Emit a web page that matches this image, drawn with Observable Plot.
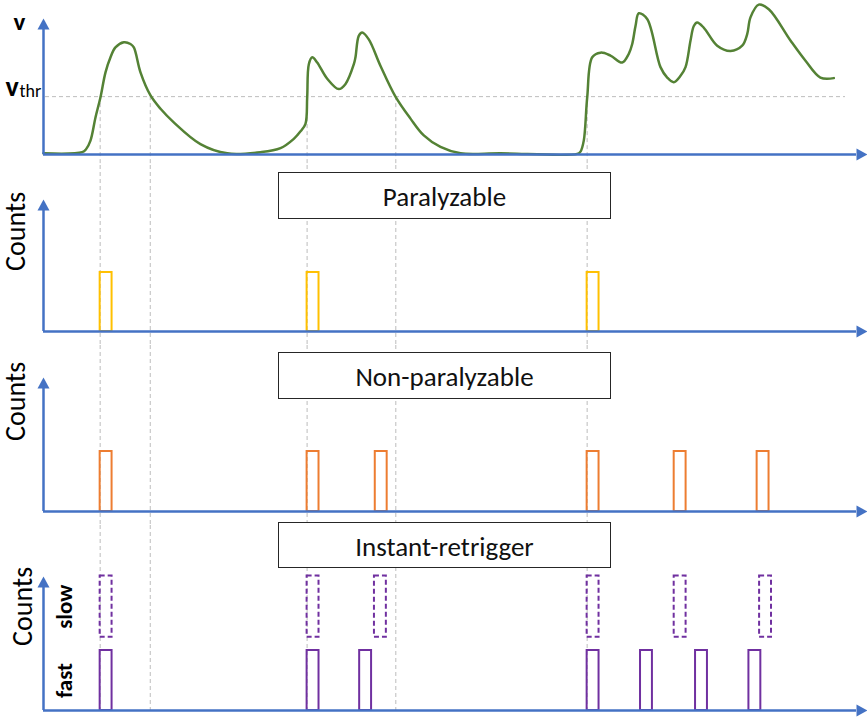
<!DOCTYPE html>
<html>
<head>
<meta charset="utf-8">
<script src="https://cdn.jsdelivr.net/npm/d3@7"></script>
<script src="https://cdn.jsdelivr.net/npm/@observablehq/plot@0.6"></script>
<style>
  body { margin: 0; background: #fff; }
  #fig { position: relative; width: 867px; height: 719px; font-family: Carlito, Calibri, Lato, sans-serif; }
  #fig svg { position: absolute; left: 0; overflow: visible; }
  .mode {
    position: absolute; left: 278px; width: 333px; box-sizing: border-box;
    border: 1.5px solid #262626; background: #fff; color: #111;
    display: flex; align-items: center; justify-content: center;
    font-size: 27px; line-height: 1; padding-top: 2px;
  }
</style>
</head>
<body>
<div id="fig"></div>
<script>
// Time axis (arbitrary units) shared by every panel
const timeDomain = [0, 99];

// Detector signal v(t); threshold level is 1
const vThr = 1;
const vAxisTop = 2.16;
const signalT = [0, 4.71, 5.18, 5.72, 6.33, 6.94, 7.55, 8.16, 8.76, 9.78, 10.59, 11.0, 11.81, 13.03, 14.25,
  15.83, 19.11, 22.37, 26.42, 28.86, 30.48, 31.3, 31.9, 32.11, 32.31, 32.72, 33.33, 34.55, 35.96, 36.78,
  37.79, 37.99, 38.39, 38.81, 39.61, 41.04, 42.86, 44.69, 46.31, 48.34, 50.78, 55.65, 64.99, 65.39, 65.79,
  66.21, 66.82, 67.83, 69.04, 70.47, 71.27, 71.69, 72.09, 72.49, 73.51, 75.13, 75.95, 76.75, 77.57, 78.18,
  78.79, 79.19, 79.6, 80.41, 82.04, 83.66, 85.08, 85.69, 86.09, 87.1, 88.32, 90.96, 92.79, 94.6, 96.24];
const signalV = [0.02, 0.04, 0.09, 0.24, 0.64, 0.99, 1.42, 1.68, 1.85, 1.94, 1.91, 1.85, 1.42, 1.02, 0.79,
  0.56, 0.18, 0.02, 0.04, 0.11, 0.27, 0.40, 0.53, 0.99, 1.56, 1.68, 1.59, 1.31, 1.13, 1.22,
  1.56, 1.68, 2.05, 2.11, 1.99, 1.53, 1.0, 0.62, 0.33, 0.13, 0.02, 0.02, 0.01, 0.05, 0.24,
  0.99, 1.68, 1.76, 1.71, 1.59, 1.74, 1.91, 2.22, 2.44, 2.34, 1.51, 1.33, 1.25, 1.36, 1.51,
  1.97, 2.22, 2.28, 2.19, 1.88, 1.79, 1.88, 2.08, 2.37, 2.59, 2.51, 1.97, 1.62, 1.33, 1.32];

// Times where the signal crosses the threshold
const thresholdCrossings = [6.9, 13.0, 32.1, 42.9, 66.2];

// Recorded count pulses (start times) for each dead-time model
const pulseWidth = 1.45;
const pulseHeight = 1;
const countsAxisTop = 2.05;
const paralyzable = [6.9, 32.1, 66.2];
const nonParalyzable = [6.9, 32.1, 40.4, 66.2, 76.8, 86.9];
const retriggerSlow = [6.9, 32.1, 40.3, 66.2, 76.8, 87.2];
const retriggerFast = [6.9, 32.1, 38.5, 66.2, 72.7, 79.4, 85.9];
const slowBand = [1.22, 2.24];
const fastBand = [0, 1];

const modeTitles = ["Paralyzable", "Non-paralyzable", "Instant-retrigger"];

const BLUE = "#4472C4", GREEN = "#548235", GUIDE = "#BDBDBD";
const YELLOW = "#FFC000", ORANGE = "#ED7D31", PURPLE = "#7030A0";
const FONT = "Carlito, Calibri, Lato, sans-serif";
const W = 867, ML = 43, MR = 11;

const fig = document.getElementById("fig");
const signal = signalT.map((t, i) => ({t, v: signalV[i]}));

// filled arrowheads for the axis ends
const arrowUp = {draw(c) { c.moveTo(0, -11); c.lineTo(6, 0); c.lineTo(-6, 0); c.closePath(); }};
const arrowRight = {draw(c) { c.moveTo(11, 0); c.lineTo(0, 6); c.lineTo(0, -6); c.closePath(); }};

function axes(yTop) {
  return [
    Plot.ruleY([0], {stroke: BLUE, strokeWidth: 2.5}),
    Plot.ruleX([0], {x: d => d, y1: 0, y2: yTop, stroke: BLUE, strokeWidth: 2.5}),
    Plot.dot([yTop], {x: 0, y: d => d, symbol: arrowUp, fill: BLUE, stroke: "none"}),
    Plot.dot([timeDomain[1]], {x: d => d, y: 0, symbol: arrowRight, fill: BLUE, stroke: "none"})
  ];
}

function place({top, height, mt, mb, yTop, marks}) {
  const svg = Plot.plot({
    width: W, height, marginLeft: ML, marginRight: MR, marginTop: mt, marginBottom: mb,
    x: {domain: timeDomain, axis: null},
    y: {domain: [0, yTop], axis: null},
    style: `font-family: ${FONT}; overflow: visible; background: transparent;`,
    marks
  });
  svg.style.position = "absolute";
  svg.style.top = top + "px";
  fig.appendChild(svg);
}

const guide = {stroke: GUIDE, strokeWidth: 1, strokeDasharray: "4,3"};
const pulse = (starts, band, stroke, extra = {}) =>
  Plot.rect(starts, {x1: d => d, x2: d => d + pulseWidth, y1: band[0], y2: band[1],
    fill: "none", stroke, strokeWidth: 2, ...extra});
const countsLabel = (dx, dy) =>
  Plot.text(["Counts"], {frameAnchor: "left", text: d => d, rotate: -90, dx, dy,
    fontSize: 28, fontFamily: FONT, fill: "#000"});

// Signal panel
place({
  top: 0, height: 165, mt: 29, mb: 11, yTop: vAxisTop,
  marks: [
    Plot.ruleY([vThr], {...guide, insetLeft: 2, insetRight: 11}),
    Plot.ruleX(thresholdCrossings, {x: d => d, y1: vThr, y2: 0, ...guide, insetBottom: -11}),
    Plot.line(signal, {x: "t", y: "v", curve: "catmull-rom", stroke: GREEN, strokeWidth: 2.5}),
    ...axes(vAxisTop),
    Plot.text(["v"], {x: 0, y: vAxisTop, text: d => d, dx: -24, dy: -8, fontSize: 25, fontWeight: "bold", fontFamily: FONT, fill: "#000"}),
    Plot.text(["v"], {x: 0, y: vThr, text: d => d, textAnchor: "start", dx: -38, dy: -10, fontSize: 28, fontWeight: "bold", fontFamily: FONT, fill: "#000"}),
    Plot.text(["thr"], {x: 0, y: vThr, text: d => d, textAnchor: "start", dx: -24, dy: -5, fontSize: 18, fontFamily: FONT, fill: "#000"})
  ]
});

// Paralyzable
place({
  top: 165, height: 180, mt: 45, mb: 14, yTop: countsAxisTop,
  marks: [
    Plot.ruleX(thresholdCrossings, {x: d => d, ...guide, insetTop: -45, insetBottom: -14}),
    pulse(paralyzable, [0, pulseHeight], YELLOW),
    ...axes(countsAxisTop),
    countsLabel(-27, 0)
  ]
});

// Non-paralyzable
place({
  top: 345, height: 180, mt: 43, mb: 14, yTop: countsAxisTop,
  marks: [
    Plot.ruleX(thresholdCrossings, {x: d => d, ...guide, insetTop: -43, insetBottom: -14}),
    pulse(nonParalyzable, [0, pulseHeight], ORANGE),
    ...axes(countsAxisTop),
    countsLabel(-27, -9)
  ]
});

// Instant-retrigger, slow and fast variants
place({
  top: 525, height: 194, mt: 62, mb: 9, yTop: countsAxisTop,
  marks: [
    Plot.ruleX(thresholdCrossings, {x: d => d, ...guide, insetTop: -62}),
    pulse(retriggerSlow, slowBand, PURPLE, {strokeDasharray: "5,3"}),
    pulse(retriggerFast, fastBand, PURPLE),
    ...axes(countsAxisTop),
    countsLabel(-20, -3),
    Plot.text([{label: "slow", y: d3.mean(slowBand)}, {label: "fast", y: d3.mean(fastBand)}],
      {x: 0, y: "y", text: "label", rotate: -90, dx: 21, fontSize: 23, fontWeight: "bold", fontFamily: FONT, fill: "#000"})
  ]
});

// Model titles
const titleTops = [172, 352, 522];
modeTitles.forEach((name, i) => {
  const div = document.createElement("div");
  div.className = "mode";
  div.style.top = titleTops[i] + "px";
  div.style.height = (i === 2 ? 46 : 47) + "px";
  div.textContent = name;
  fig.appendChild(div);
});
</script>
</body>
</html>
